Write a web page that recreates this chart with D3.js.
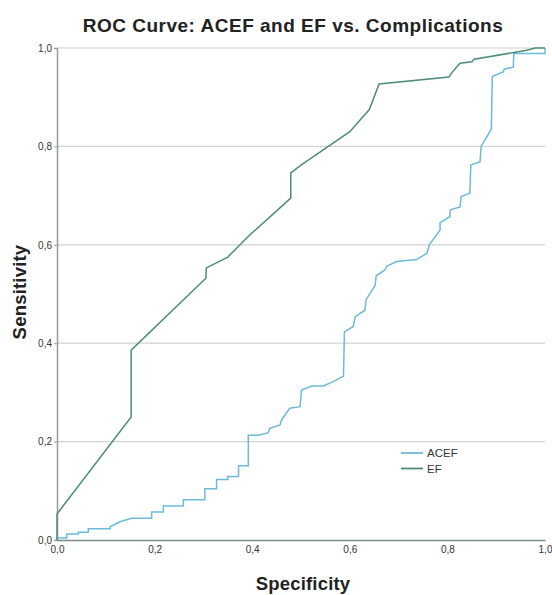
<!DOCTYPE html>
<html><head><meta charset="utf-8">
<script src="https://cdn.jsdelivr.net/npm/d3@7"></script>
<style>body{margin:0;background:#fff;} text{font-family:"Liberation Sans",Arial,sans-serif;}</style>
</head><body>
<svg id="chart" width="552" height="595"></svg>
<script>
const title = "ROC Curve: ACEF and EF vs. Complications";
const xLabel = "Specificity";
const yLabel = "Sensitivity";
const ticks = [0, 0.2, 0.4, 0.6, 0.8, 1.0];
const seriesNames = ["ACEF", "EF"];
const seriesColors = ["#6dbad8", "#4f8b7b"];
// ACEF curve (x, y)
const acefX = [0,0,0.02,0.02,0.044,0.044,0.064,0.064,0.109,0.109,0.129,0.153,0.194,0.194,0.218,0.218,0.259,0.259,0.303,0.303,0.327,0.327,0.35,0.35,0.372,0.372,0.392,0.392,0.413,0.433,0.436,0.457,0.46,0.477,0.498,0.501,0.522,0.546,0.566,0.587,0.589,0.607,0.611,0.631,0.633,0.652,0.654,0.672,0.676,0.696,0.737,0.758,0.763,0.763,0.785,0.785,0.805,0.806,0.826,0.828,0.846,0.848,0.867,0.869,0.89,0.892,0.915,0.916,0.935,0.936,1.0,1.0];
const acefY = [0,0.004,0.004,0.012,0.012,0.016,0.016,0.023,0.023,0.027,0.037,0.044,0.044,0.057,0.057,0.069,0.069,0.082,0.082,0.104,0.104,0.123,0.123,0.129,0.129,0.151,0.151,0.213,0.213,0.218,0.227,0.234,0.244,0.268,0.271,0.305,0.313,0.313,0.322,0.333,0.423,0.434,0.454,0.467,0.488,0.518,0.537,0.549,0.557,0.566,0.57,0.583,0.6,0.6,0.63,0.645,0.657,0.671,0.677,0.698,0.705,0.762,0.769,0.8,0.835,0.942,0.952,0.957,0.961,0.989,0.989,1.0];
// EF curve (x, y)
const efX = [0,0,0.152,0.152,0.305,0.306,0.35,0.375,0.395,0.479,0.479,0.5,0.6,0.64,0.66,0.803,0.81,0.826,0.85,0.855,0.96,0.98,1.0];
const efY = [0,0.053,0.25,0.386,0.532,0.553,0.575,0.6,0.62,0.695,0.746,0.762,0.83,0.875,0.927,0.941,0.951,0.969,0.972,0.977,0.995,1.0,1.0];

const svg = d3.select("#chart");
const m = {left:57, right:545, top:48, bottom:540};
const x = d3.scaleLinear().domain([0,1]).range([m.left, m.right]);
const y = d3.scaleLinear().domain([0,1]).range([m.bottom, m.top]);
const loc = d3.formatLocale({decimal:",", thousands:".", grouping:[3], currency:["",""]});
const fmt = loc.format(".1f");

// gridlines
svg.append("g").selectAll("line").data(ticks.filter(t=>t>0)).join("line")
  .attr("x1", m.left).attr("x2", m.right)
  .attr("y1", d=>y(d)).attr("y2", d=>y(d))
  .attr("stroke", "#d2d2d2").attr("stroke-width", 1.2);

// y axis
const ya = svg.append("g").attr("transform", `translate(${m.left},0)`)
  .call(d3.axisLeft(y).tickValues(ticks).tickFormat(fmt).tickSize(3).tickPadding(2));
ya.select(".domain").attr("stroke", "#9a9a9a").attr("stroke-width", 1.5);
ya.selectAll(".tick line").attr("stroke", "#9a9a9a");
ya.selectAll("text").attr("fill", "#333").style("font-size", "10px");

// x axis
const xa = svg.append("g").attr("transform", `translate(0,${m.bottom})`)
  .call(d3.axisBottom(x).tickValues(ticks).tickFormat(fmt).tickSize(0).tickPadding(6));
xa.select(".domain").attr("stroke", "#7a8a88").attr("stroke-width", 1.5);
xa.selectAll("text").attr("fill", "#333").style("font-size", "10px");

const line = d3.line().x(d=>x(d[0])).y(d=>y(d[1]));
const acef = acefX.map((v,i)=>[v, acefY[i]]);
const ef = efX.map((v,i)=>[v, efY[i]]);
svg.append("path").datum(acef).attr("d", line).attr("fill","none")
  .attr("stroke", seriesColors[0]).attr("stroke-width", 1.5);
svg.append("path").datum(ef).attr("d", line).attr("fill","none")
  .attr("stroke", seriesColors[1]).attr("stroke-width", 1.5);

// legend
const lg = svg.append("g");
seriesNames.forEach((n,i)=>{
  const ly = 453 + i*15.5;
  lg.append("line").attr("x1",401).attr("x2",423).attr("y1",ly).attr("y2",ly)
    .attr("stroke", seriesColors[i]).attr("stroke-width", 1.8);
  lg.append("text").attr("x",427).attr("y",ly+4).text(n)
    .attr("fill","#333").style("font-size","11.5px");
});

// title and labels
svg.append("text").attr("x", 293).attr("y", 32).attr("text-anchor","middle")
  .style("font-size","19px").style("font-weight","bold").style("letter-spacing","0.5px")
  .attr("fill","#222").text(title);
svg.append("text").attr("x", 303).attr("y", 590).attr("text-anchor","middle")
  .style("font-size","18.5px").style("font-weight","bold").style("letter-spacing","0.2px")
  .attr("fill","#222").text(xLabel);
svg.append("text").attr("transform", "translate(26,292) rotate(-90)").attr("text-anchor","middle")
  .style("font-size","18.5px").style("font-weight","bold").style("letter-spacing","0.2px")
  .attr("fill","#222").text(yLabel);
</script>
</body></html>
